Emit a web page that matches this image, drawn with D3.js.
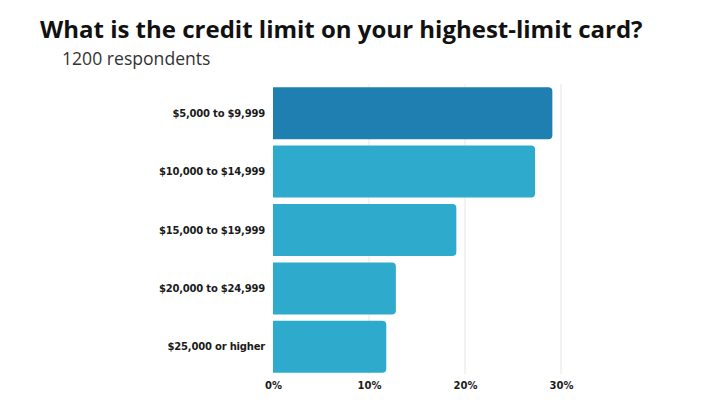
<!DOCTYPE html>
<html lang="en">
<head>
<meta charset="UTF-8">
<title>Credit limit on highest-limit card</title>
<style>
  body { margin: 0; background: #fff; }
  svg text { font-family: "Open Sans", sans-serif; }
  .tick text { font-family: "DejaVu Sans", sans-serif; font-weight: 700; fill: #1a1a1a; }
</style>
</head>
<body>
<svg id="chart" width="720" height="404"></svg>
<script src="https://d3js.org/d3.v7.min.js"></script>
<script>
// data (share of respondents, %)
var categories = ["$5,000 to $9,999", "$10,000 to $14,999", "$15,000 to $19,999", "$20,000 to $24,999", "$25,000 or higher"];
var shares = [29.1, 27.3, 19.1, 12.8, 11.8];
var tickValues = [0, 10, 20, 30];

var svg = d3.select("#chart");

var x = d3.scaleLinear().domain([0, 30]).range([273, 561]);
var y = d3.scaleBand()
          .domain(categories)
          .range([84, 376])
          .paddingInner(0.11)
          .paddingOuter(0.055);

// title
svg.append("text")
   .attr("x", 40).attr("y", 38)
   .style("font-size", "24px")
   .style("font-weight", 700)
   .style("fill", "#111")
   .text("What is the credit limit on your highest-limit card?");

svg.append("text")
   .attr("x", 62).attr("y", 65)
   .style("font-size", "17.6px")
   .style("fill", "#333")
   .text("1200 respondents");

// gridlines
svg.append("g")
   .selectAll("line")
   .data(tickValues.slice(1))
   .enter().append("line")
   .attr("x1", d => x(d)).attr("x2", d => x(d))
   .attr("y1", 84).attr("y2", 374)
   .attr("stroke", "#e6e6e6")
   .attr("stroke-width", 1);

// bars: square left end, rounded right end
function barPath(x0, x1, y0, h, r) {
  r = Math.min(r, (x1 - x0) / 2);
  return "M" + x0 + "," + y0 +
         "H" + (x1 - r) +
         "Q" + x1 + "," + y0 + " " + x1 + "," + (y0 + r) +
         "V" + (y0 + h - r) +
         "Q" + x1 + "," + (y0 + h) + " " + (x1 - r) + "," + (y0 + h) +
         "H" + x0 + "Z";
}

svg.append("g")
   .selectAll("path")
   .data(categories)
   .enter().append("path")
   .attr("d", (d, i) => barPath(x(0), x(shares[i]), y(d), y.bandwidth(), 4))
   .attr("fill", (d, i) => i === 0 ? "#1f7fb1" : "#2eaacc");

// category labels
var yAxis = svg.append("g")
   .attr("transform", "translate(" + (x(0) - 8) + ",0)")
   .call(d3.axisLeft(y).tickSize(0).tickPadding(0));
yAxis.select(".domain").remove();
yAxis.selectAll("text").style("font-size", "10px").style("letter-spacing", "-0.2px").attr("dy", "0.35em");

// value axis
var xAxis = svg.append("g")
   .attr("transform", "translate(0,376)")
   .call(d3.axisBottom(x).tickValues(tickValues).tickFormat(d => d + "%").tickSize(0).tickPadding(6));
xAxis.select(".domain").remove();
xAxis.selectAll("text").style("font-size", "10px");
</script>
</body>
</html>
